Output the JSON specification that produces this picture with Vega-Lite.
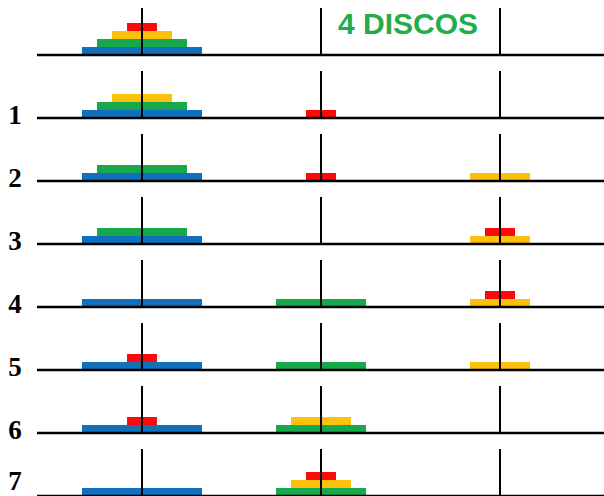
{
  "$schema": "https://vega.github.io/schema/vega-lite/v6.json",
  "padding": 0,
  "background": "white",
  "bounds": "flush",
  "data": {"values": [
    {"kind":"disc","step":0,"peg":0,"level":0,"disc":4},{"kind":"disc","step":0,"peg":0,"level":1,"disc":3},{"kind":"disc","step":0,"peg":0,"level":2,"disc":2},{"kind":"disc","step":0,"peg":0,"level":3,"disc":1},
    {"kind":"disc","step":1,"peg":0,"level":0,"disc":4},{"kind":"disc","step":1,"peg":0,"level":1,"disc":3},{"kind":"disc","step":1,"peg":0,"level":2,"disc":2},{"kind":"disc","step":1,"peg":1,"level":0,"disc":1},
    {"kind":"disc","step":2,"peg":0,"level":0,"disc":4},{"kind":"disc","step":2,"peg":0,"level":1,"disc":3},{"kind":"disc","step":2,"peg":1,"level":0,"disc":1},{"kind":"disc","step":2,"peg":2,"level":0,"disc":2},
    {"kind":"disc","step":3,"peg":0,"level":0,"disc":4},{"kind":"disc","step":3,"peg":0,"level":1,"disc":3},{"kind":"disc","step":3,"peg":2,"level":0,"disc":2},{"kind":"disc","step":3,"peg":2,"level":1,"disc":1},
    {"kind":"disc","step":4,"peg":0,"level":0,"disc":4},{"kind":"disc","step":4,"peg":1,"level":0,"disc":3},{"kind":"disc","step":4,"peg":2,"level":0,"disc":2},{"kind":"disc","step":4,"peg":2,"level":1,"disc":1},
    {"kind":"disc","step":5,"peg":0,"level":0,"disc":4},{"kind":"disc","step":5,"peg":0,"level":1,"disc":1},{"kind":"disc","step":5,"peg":1,"level":0,"disc":3},{"kind":"disc","step":5,"peg":2,"level":0,"disc":2},
    {"kind":"disc","step":6,"peg":0,"level":0,"disc":4},{"kind":"disc","step":6,"peg":0,"level":1,"disc":1},{"kind":"disc","step":6,"peg":1,"level":0,"disc":3},{"kind":"disc","step":6,"peg":1,"level":1,"disc":2},
    {"kind":"disc","step":7,"peg":0,"level":0,"disc":4},{"kind":"disc","step":7,"peg":1,"level":0,"disc":3},{"kind":"disc","step":7,"peg":1,"level":1,"disc":2},{"kind":"disc","step":7,"peg":1,"level":2,"disc":1},
    {"kind":"peg","step":0,"peg":0},{"kind":"peg","step":0,"peg":1},{"kind":"peg","step":0,"peg":2},
    {"kind":"peg","step":1,"peg":0},{"kind":"peg","step":1,"peg":1},{"kind":"peg","step":1,"peg":2},
    {"kind":"peg","step":2,"peg":0},{"kind":"peg","step":2,"peg":1},{"kind":"peg","step":2,"peg":2},
    {"kind":"peg","step":3,"peg":0},{"kind":"peg","step":3,"peg":1},{"kind":"peg","step":3,"peg":2},
    {"kind":"peg","step":4,"peg":0},{"kind":"peg","step":4,"peg":1},{"kind":"peg","step":4,"peg":2},
    {"kind":"peg","step":5,"peg":0},{"kind":"peg","step":5,"peg":1},{"kind":"peg","step":5,"peg":2},
    {"kind":"peg","step":6,"peg":0},{"kind":"peg","step":6,"peg":1},{"kind":"peg","step":6,"peg":2},
    {"kind":"peg","step":7,"peg":0},{"kind":"peg","step":7,"peg":1},{"kind":"peg","step":7,"peg":2},
    {"kind":"title","step":0,"text":"4 DISCOS"}
  ]},
  "facet": {
    "row": {"field": "step", "type": "ordinal", "title": null, "header": {"labels": false, "title": null}}
  },
  "spacing": 0,
  "spec": {
    "width": 604,
    "height": 63,
    "layer": [
      {
        "transform": [{"filter": "datum.kind == 'disc'"}],
        "mark": {"type": "tick", "orient": "horizontal", "thickness": 8, "opacity": 1},
        "encoding": {
          "x": {"field": "peg", "type": "quantitative", "axis": null, "scale": {"domain": [-0.7933, 2.581], "nice": false, "zero": false}},
          "y": {"field": "level", "type": "quantitative", "axis": null, "scale": {"domain": [-1.5, 6.375], "nice": false, "zero": false}},
          "size": {"field": "disc", "type": "quantitative", "legend": null, "scale": {"type": "linear", "domain": [0, 4], "range": [0, 120], "zero": true}},
          "color": {"field": "disc", "type": "nominal", "legend": null, "scale": {"domain": [1, 2, 3, 4], "range": ["#fa0a0a", "#fcc10d", "#16a84a", "#1170bd"]}}
        }
      },
      {
        "transform": [{"filter": "datum.kind == 'peg'"}],
        "mark": {"type": "rule", "color": "black", "strokeWidth": 2},
        "encoding": {
          "x": {"field": "peg", "type": "quantitative"},
          "y": {"datum": -0.5, "type": "quantitative"},
          "y2": {"datum": 5.375}
        }
      },
      {
        "transform": [{"filter": "datum.kind == 'peg' && datum.peg == 0"}],
        "mark": {"type": "rule", "color": "black", "strokeWidth": 2.5},
        "encoding": {
          "x": {"datum": -0.5866, "type": "quantitative"},
          "x2": {"datum": 2.581},
          "y": {"datum": -0.5, "type": "quantitative"}
        }
      },
      {
        "transform": [{"filter": "datum.kind == 'peg' && datum.peg == 0 && datum.step > 0 && datum.step < 7"}],
        "mark": {"type": "text", "font": "Liberation Serif", "fontWeight": "bold", "fontSize": 27, "color": "black", "align": "center", "baseline": "middle"},
        "encoding": {
          "x": {"datum": -0.7095, "type": "quantitative"},
          "y": {"datum": -0.3, "type": "quantitative"},
          "text": {"field": "step"}
        }
      },
      {
        "transform": [{"filter": "datum.kind == 'peg' && datum.peg == 0 && datum.step == 7"}],
        "mark": {"type": "text", "font": "Liberation Serif", "fontWeight": "bold", "fontSize": 27, "color": "black", "align": "center", "baseline": "middle"},
        "encoding": {
          "x": {"datum": -0.7095, "type": "quantitative"},
          "y": {"datum": 1.3, "type": "quantitative"},
          "text": {"field": "step"}
        }
      },
      {
        "transform": [{"filter": "datum.kind == 'title'"}],
        "mark": {"type": "text", "font": "Liberation Sans", "fontWeight": "bold", "fontSize": 30, "color": "#22ac4b", "align": "center", "baseline": "middle"},
        "encoding": {
          "x": {"datum": 1.486, "type": "quantitative"},
          "y": {"datum": 3.31, "type": "quantitative"},
          "text": {"field": "text"}
        }
      }
    ]
  },
  "config": {"view": {"stroke": null}}
}
